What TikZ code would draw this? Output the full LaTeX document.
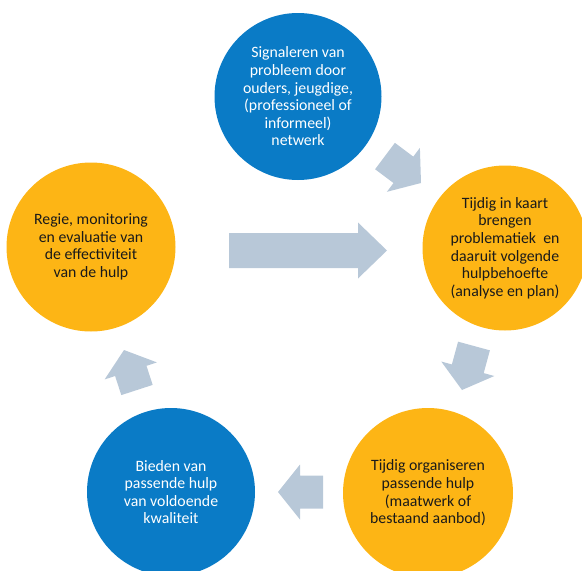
\documentclass[tikz,border=0pt]{standalone}
\usepackage{fontspec}
\setmainfont{Carlito}
\usetikzlibrary{calc}
\definecolor{cblue}{HTML}{0A7BC6}
\definecolor{corange}{HTML}{FDB515}
\definecolor{carrow}{HTML}{B8C8D8}
\definecolor{ctext}{HTML}{1A1A1A}
\newlength{\aw}\newlength{\aH}\newlength{\ah}
\newcommand\blockarr[2]{%
  \coordinate (neck) at ($(#2)!\ah!(#1)$);
  \fill[arrowfill] ($(#1)!\aw!90:(#2)$) -- ($(neck)!\aw!90:(#2)$) -- ($(neck)!\aH!90:(#2)$) -- (#2)
    -- ($(neck)!\aH!-90:(#2)$) -- ($(neck)!\aw!-90:(#2)$) -- ($(#1)!\aw!-90:(#2)$) -- cycle;}
\tikzset{
  bubble/.style={circle, inner sep=0pt, align=center, font=\fontsize{15.8}{17.6}\selectfont},
  bluebubble/.style={bubble, fill=cblue, text=white},
  orangebubble/.style={bubble, fill=corange, text=ctext},
  arrowfill/.style={fill=carrow}
}
\begin{document}
\begin{tikzpicture}[x=1pt,y=-1pt]
\useasboundingbox (0,0) rectangle (582,571);
\clip (0,0) rectangle (582,571);
% circles
\node[bluebubble, minimum size=167pt] (sig) at (298,96.5) {Signaleren van\\probleem door\\ouders, jeugdige,\\(professioneel of\\informeel)\\netwerk};
\node[orangebubble, minimum size=165pt] (kaart) at (505,248) {Tijdig in kaart\\brengen\\problematiek\ \ en\\daaruit volgende\\hulpbehoefte\\(analyse en plan)};
\node[orangebubble, minimum size=170pt] (org) at (428,493) {Tijdig organiseren\\passende hulp\\(maatwerk of\\bestaand aanbod)};
\node[bluebubble, minimum size=168pt] (bied) at (171,492) {Bieden van\\passende hulp\\van voldoende\\kwaliteit};
\node[orangebubble, minimum size=169pt] (regie) at (91,247) {Regie, monitoring\\en evaluatie van\\de effectiviteit\\van de hulp};
% arrow anchor coordinates
\coordinate (a1b) at (385,156); \coordinate (a1t) at (421,183);
\coordinate (a2b) at (474,346); \coordinate (a2t) at (462,390);
\coordinate (a3b) at (323,492); \coordinate (a3t) at (278,492);
\coordinate (a4b) at (137,390); \coordinate (a4t) at (124,350);
\coordinate (a5b) at (229,250.5); \coordinate (a5t) at (387,250.5);
% small arrows
\setlength{\aw}{16.5pt}\setlength{\aH}{27.5pt}\setlength{\ah}{22pt}
\blockarr{a1b}{a1t}
\blockarr{a2b}{a2t}
\blockarr{a3b}{a3t}
\blockarr{a4b}{a4t}
% big arrow
\setlength{\aw}{17.5pt}\setlength{\aH}{28pt}\setlength{\ah}{29pt}
\blockarr{a5b}{a5t}
\end{tikzpicture}
\end{document}
